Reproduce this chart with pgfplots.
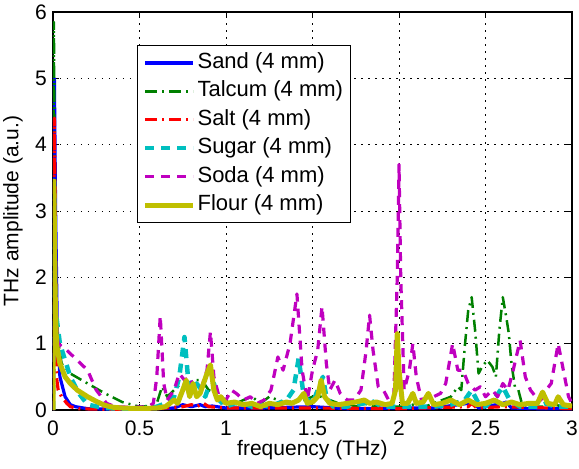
\documentclass[border=0pt]{standalone}
\usepackage{fontspec}
\setmainfont{Liberation Sans}
\usepackage{pgfplots}
\pgfplotsset{compat=1.18}
\definecolor{mgreen}{rgb}{0,0.5,0}
\definecolor{mcyan}{rgb}{0,0.75,0.75}
\definecolor{mmag}{rgb}{0.75,0,0.75}
\definecolor{molive}{rgb}{0.75,0.75,0}
\begin{document}
\begin{tikzpicture}[font=\fontsize{22}{26}\selectfont]
\begin{axis}[
 name=ax, scale only axis, width=519pt, height=398pt,
 xmin=0, xmax=3, ymin=0, ymax=6,
 xtick={0,0.5,1,1.5,2,2.5,3}, ytick={0,1,2,3,4,5,6},
 xticklabels={0,0.5,1,1.5,2,2.5,3},
 /pgf/number format/assume math mode=true,
 tick align=inside, xtick pos=both, ytick pos=both,
 major tick length=6pt,
 every tick/.style={black, line width=0.8pt},
 xticklabel style={font=\fontsize{21}{25}\selectfont, anchor=center, yshift=-18pt},
 yticklabel style={font=\fontsize{21}{25}\selectfont, anchor=center, xshift=-12pt},
 grid=major, grid style={black, line width=0.7pt, dash pattern=on 1.5pt off 5.5pt},
 axis line style={line width=1.8pt},
 xlabel={frequency (THz)}, ylabel={THz amplitude (a.u.)},
 xlabel style={font=\fontsize{21}{25}\selectfont, at={(rel axis cs:0.5,0)}, anchor=center, yshift=-40pt},
 ylabel style={font=\fontsize{21}{25}\selectfont, at={(rel axis cs:0,0.5)}, anchor=center, yshift=40pt},
 every axis plot/.append style={line join=round},
 legend cell align=left,
 legend style={at={(rel axis cs:0.162,0.917)}, anchor=north west, draw=black, line width=1pt, fill=white, row sep=3.4pt, inner sep=5pt, nodes={inner sep=2pt, text height=16pt, text depth=5pt}},
 legend image code/.code={\draw[#1] (4pt,0pt) -- (52pt,0pt);},
]
% Sand
\addplot[blue, line width=3.2pt] coordinates {(0,0)(0.008,5.0)(0.015,3.0)(0.025,1.2)(0.04,0.5)(0.07,0.2)(0.1,0.08)(0.13,0.05)(0.2,0.02)(0.4,0.01)(0.6,0.02)(0.7,0.03)(0.75,0.08)(0.8,0.05)(0.85,0.08)(0.88,0.05)(0.92,0.06)(1.0,0.03)(1.2,0.03)(1.5,0.05)(1.7,0.02)(2.0,0.03)(2.2,0.03)(2.4,0.1)(2.43,0.12)(2.46,0.03)(2.6,0.1)(2.62,0.12)(2.65,0.03)(2.8,0.02)(3.0,0.02)};
\addlegendentry{Sand (4 mm)}
% Talcum
\addplot[mgreen, line width=2.5pt, dash pattern=on 12pt off 5pt on 2pt off 5pt] coordinates {(0,0)(0.005,5.85)(0.012,3.0)(0.02,1.2)(0.05,0.7)(0.1,0.55)(0.2,0.4)(0.3,0.25)(0.4,0.12)(0.5,0.05)(0.55,0.06)(0.6,0.1)(0.63,0.35)(0.66,0.2)(0.7,0.3)(0.74,0.4)(0.78,0.35)(0.82,0.45)(0.86,0.45)(0.9,0.3)(0.94,0.25)(0.98,0.1)(1.02,0.15)(1.06,0.1)(1.1,0.15)(1.15,0.2)(1.2,0.1)(1.25,0.2)(1.3,0.15)(1.35,0.1)(1.4,0.15)(1.45,0.15)(1.5,0.2)(1.55,0.2)(1.6,0.15)(1.65,0.1)(1.7,0.1)(1.75,0.05)(1.8,0.1)(1.85,0.05)(1.9,0.08)(1.95,0.05)(2.0,0.05)(2.05,0.05)(2.1,0.1)(2.15,0.05)(2.2,0.1)(2.25,0.15)(2.3,0.2)(2.34,0.35)(2.36,0.3)(2.38,0.95)(2.40,1.5)(2.42,1.7)(2.44,1.2)(2.46,0.55)(2.48,0.65)(2.51,0.75)(2.54,0.65)(2.56,0.5)(2.58,1.2)(2.60,1.7)(2.62,1.4)(2.635,1.15)(2.65,0.7)(2.67,0.35)(2.69,0.3)(2.71,0.1)(2.75,0.05)(2.8,0.05)(2.85,0.05)(2.9,0.08)(2.95,0.05)(3.0,0.05)};
\addlegendentry{Talcum (4 mm)}
% Salt
\addplot[red, line width=3.2pt, dash pattern=on 12pt off 5pt on 2pt off 5pt] coordinates {(0,0)(0.008,4.4)(0.015,2.0)(0.02,0.5)(0.03,0.3)(0.05,0.2)(0.08,0.1)(0.1,0.05)(0.15,0.02)(0.3,0.01)(0.6,0.02)(0.75,0.05)(0.8,0.08)(0.83,0.05)(0.87,0.1)(0.9,0.05)(1.0,0.03)(1.5,0.03)(2.0,0.02)(2.4,0.05)(2.42,0.1)(2.45,0.03)(2.6,0.05)(3.0,0.02)};
\addlegendentry{Salt (4 mm)}
% Sugar
\addplot[mcyan, line width=4.5pt, dash pattern=on 9pt off 7pt] coordinates {(0,0)(0.006,2.5)(0.015,1.5)(0.04,1.0)(0.07,0.75)(0.1,0.5)(0.15,0.25)(0.2,0.08)(0.3,0.03)(0.4,0.02)(0.5,0.02)(0.6,0.05)(0.65,0.1)(0.7,0.2)(0.73,0.5)(0.76,1.1)(0.78,0.5)(0.8,0.3)(0.83,0.4)(0.86,0.3)(0.88,0.2)(0.9,0.35)(0.93,0.4)(0.96,0.15)(1.0,0.05)(1.05,0.1)(1.1,0.1)(1.15,0.05)(1.2,0.08)(1.25,0.05)(1.3,0.1)(1.35,0.15)(1.39,0.3)(1.42,0.78)(1.45,0.2)(1.5,0.1)(1.53,0.3)(1.56,0.5)(1.58,0.2)(1.62,0.05)(1.7,0.05)(1.75,0.08)(1.8,0.1)(1.83,0.15)(1.87,0.1)(1.9,0.05)(2.0,0.05)(2.1,0.05)(2.2,0.05)(2.3,0.08)(2.38,0.15)(2.42,0.3)(2.46,0.1)(2.5,0.05)(2.56,0.2)(2.6,0.35)(2.64,0.15)(2.7,0.05)(2.8,0.05)(2.85,0.1)(2.9,0.05)(3.0,0.05)};
\addlegendentry{Sugar (4 mm)}
% Soda
\addplot[mmag, line width=3.2pt, dash pattern=on 9pt off 7pt] coordinates {(0,0)(0.01,1.5)(0.03,1.0)(0.08,0.9)(0.14,0.75)(0.2,0.6)(0.25,0.3)(0.31,0.1)(0.36,0.05)(0.45,0.04)(0.55,0.05)(0.58,0.1)(0.60,0.5)(0.62,1.42)(0.64,0.4)(0.66,0.15)(0.70,0.3)(0.73,0.55)(0.76,0.45)(0.79,0.5)(0.82,0.3)(0.86,0.35)(0.89,0.6)(0.91,1.18)(0.93,0.5)(0.96,0.2)(1.0,0.15)(1.03,0.3)(1.06,0.25)(1.1,0.15)(1.14,0.2)(1.18,0.1)(1.22,0.15)(1.26,0.3)(1.3,0.8)(1.33,0.6)(1.37,1.0)(1.41,1.75)(1.44,0.6)(1.47,0.15)(1.50,0.6)(1.53,0.9)(1.555,1.56)(1.58,0.7)(1.6,0.3)(1.63,0.45)(1.66,0.25)(1.7,0.15)(1.74,0.15)(1.78,0.3)(1.81,0.9)(1.83,1.43)(1.85,0.9)(1.88,0.35)(1.91,0.3)(1.94,0.15)(1.97,0.2)(1.99,2.0)(2.0,3.7)(2.01,2.0)(2.03,0.3)(2.06,0.6)(2.08,1.0)(2.1,0.5)(2.13,0.15)(2.17,0.2)(2.2,0.2)(2.24,0.25)(2.27,0.4)(2.31,1.0)(2.34,0.6)(2.37,0.6)(2.4,0.4)(2.44,0.3)(2.47,0.35)(2.5,0.2)(2.54,0.3)(2.57,0.2)(2.6,0.4)(2.63,0.3)(2.66,0.6)(2.7,1.05)(2.73,0.5)(2.76,0.3)(2.79,0.2)(2.82,0.15)(2.85,0.3)(2.88,0.4)(2.92,1.0)(2.95,0.6)(2.98,0.2)(3.0,0.1)};
\addlegendentry{Soda (4 mm)}
% Flour
\addplot[molive, line width=5pt] coordinates {(0,0)(0.005,3.45)(0.012,1.8)(0.02,1.0)(0.04,0.7)(0.07,0.5)(0.1,0.4)(0.14,0.3)(0.2,0.2)(0.25,0.13)(0.3,0.07)(0.35,0.04)(0.4,0.03)(0.5,0.02)(0.6,0.03)(0.65,0.05)(0.7,0.15)(0.72,0.1)(0.75,0.3)(0.77,0.45)(0.79,0.2)(0.81,0.4)(0.83,0.2)(0.85,0.25)(0.87,0.4)(0.89,0.55)(0.91,0.68)(0.93,0.3)(0.95,0.15)(0.97,0.2)(1.0,0.1)(1.05,0.12)(1.1,0.08)(1.15,0.1)(1.2,0.05)(1.25,0.1)(1.3,0.08)(1.35,0.12)(1.38,0.1)(1.42,0.15)(1.45,0.25)(1.47,0.1)(1.5,0.12)(1.53,0.2)(1.55,0.45)(1.57,0.2)(1.6,0.1)(1.65,0.08)(1.7,0.1)(1.75,0.12)(1.8,0.15)(1.83,0.1)(1.87,0.12)(1.92,0.08)(1.96,0.1)(1.98,0.3)(1.99,1.15)(2.0,0.6)(2.02,0.1)(2.05,0.1)(2.08,0.25)(2.1,0.1)(2.14,0.12)(2.17,0.25)(2.2,0.08)(2.25,0.1)(2.3,0.15)(2.35,0.08)(2.4,0.15)(2.45,0.08)(2.5,0.1)(2.55,0.15)(2.6,0.08)(2.65,0.12)(2.7,0.08)(2.75,0.1)(2.8,0.1)(2.83,0.27)(2.86,0.1)(2.9,0.08)(2.92,0.2)(2.95,0.08)(3.0,0.06)};
\addlegendentry{Flour (4 mm)}
\coordinate (sw) at (rel axis cs:0,0);
\coordinate (ne) at (rel axis cs:1,1);
\end{axis}
\pgfresetboundingbox
\path ([shift={(-53pt,-59pt)}]sw) rectangle ([shift={(7pt,12pt)}]ne);
\end{tikzpicture}
\end{document}
